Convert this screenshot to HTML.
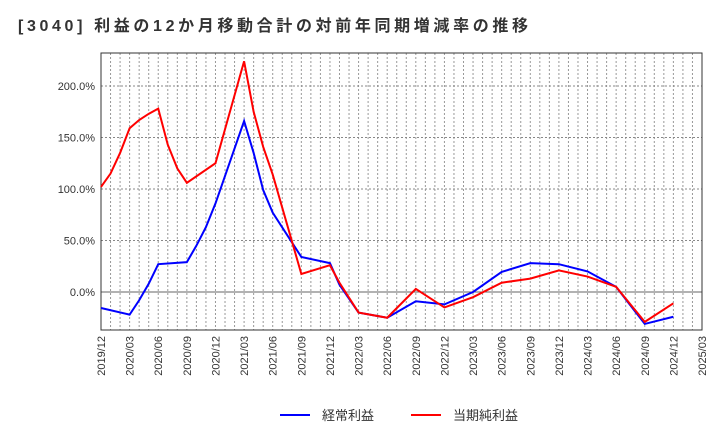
<!DOCTYPE html>
<html><head><meta charset="utf-8"><style>
body{margin:0;background:#fff;font-family:"Liberation Sans","Noto Sans CJK JP",sans-serif}
</style></head><body>
<svg width="720" height="440" xmlns="http://www.w3.org/2000/svg">
<text x="18" y="31" font-size="16" font-weight="bold" fill="#333" textLength="510" lengthAdjust="spacing" font-family="Liberation Sans, Noto Sans CJK JP, sans-serif">[3040]  利益の12か月移動合計の対前年同期増減率の推移</text>
<g id="grid"></g><g id="axes"></g><g id="series"></g>
<g>
<line x1="280" y1="415" x2="310" y2="415" stroke="#0000ff" stroke-width="2"/>
<text x="322" y="420" font-size="13" fill="#333">経常利益</text>
<line x1="411" y1="415" x2="441" y2="415" stroke="#ff0000" stroke-width="2"/>
<text x="453" y="420" font-size="13" fill="#333">当期純利益</text>
</g>
</svg>
<script>
const xLabels=["2019/12","2020/03","2020/06","2020/09","2020/12","2021/03","2021/06","2021/09","2021/12","2022/03","2022/06","2022/09","2022/12","2023/03","2023/06","2023/09","2023/12","2024/03","2024/06","2024/09","2024/12","2025/03"];
const yTicks=[0,50,100,150,200];
const blueMonths=[0,3,4,5,6,9,10,11,12,15,16,17,18,21,24,25,27,30,33,36,39,42,45,48,51,54,57,60];
const blueVals=[-15.5,-22,-8,8,27,29,45,63,86,166,135,99,77,34,28,7,-20,-25,-9,-12,0,19.5,28,27,20,5,-31,-24];
const redMonths=[0,1,2,3,4,5,6,7,8,9,12,15,16,17,18,21,24,25,27,30,33,36,39,42,45,48,51,54,57,60];
const redVals=[102,115,135,159,167,173,178,143,120,106,125,224,175,141,114,17.5,26,9,-20,-25,3,-15,-5,9,13,21,15,5,-29,-11];
const L=101,R=702,T=53,B=330;
const xs=m=>L+m*(R-L)/63;
const ys=v=>292-v*1.03;
const NS="http://www.w3.org/2000/svg";
function mk(t,a,p){const e=document.createElementNS(NS,t);for(const k in a)e.setAttribute(k,a[k]);p.appendChild(e);return e;}
const grid=document.getElementById('grid'),axes=document.getElementById('axes'),ser=document.getElementById('series');
for(let m=1;m<63;m++){const l=mk('line',{x1:xs(m),x2:xs(m),y1:T,y2:B,stroke:'#999','stroke-dasharray':'2,2','stroke-width':1},grid);

}
yTicks.forEach(v=>{const l=mk('line',{x1:L,x2:R,y1:ys(v),y2:ys(v),stroke:v===0?'#666':'#888','stroke-dasharray':v===0?'none':'2,2','stroke-width':1},grid);


const t=mk('text',{x:L-6,y:ys(v)+4,'text-anchor':'end','font-size':11,fill:'#333'},axes);t.textContent=v.toFixed(1)+'%';

});
const fr=mk('rect',{x:L,y:T,width:R-L,height:B-T,fill:'none',stroke:'#333','stroke-width':1},axes);


xLabels.forEach((s,i)=>{const x=xs(i*3);const t=mk('text',{x:x+4,y:B+6,'text-anchor':'end','font-size':11,fill:'#333',transform:`rotate(-90 ${x+4} ${B+6})`},axes);t.textContent=s;

});
function line(ms,vs,c,n){const p=mk('polyline',{points:ms.map((m,i)=>xs(m)+','+ys(vs[i])).join(' '),fill:'none',stroke:c,'stroke-width':2},ser);

}
line(blueMonths,blueVals,'#0000ff','series-keijo');
line(redMonths,redVals,'#ff0000','series-junri');
</script>
</body></html>
